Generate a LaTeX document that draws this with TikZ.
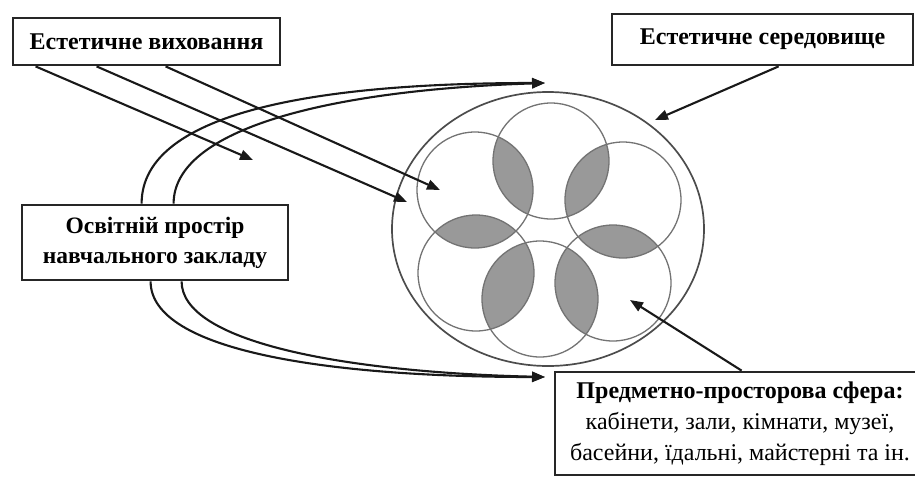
\documentclass[tikz,border=0pt]{standalone}
\usepackage{fontspec}
\setmainfont{Liberation Serif}
\usetikzlibrary{arrows.meta,calc,shapes.geometric}
\begin{document}
\begin{tikzpicture}[x=1pt,y=-1pt,
  box/.style={draw=black!85, line width=2.8pt, rectangle, inner sep=0pt, align=center, fill=white},
  btext/.style={font=\bfseries\fontsize{24}{30}\selectfont},
  conn/.style={draw=black!90, line width=2.1pt, -{Triangle[length=13pt,width=10pt]}},
  ring/.style={draw=black!55, line width=1.3pt},
  lens/.style={fill=black!40}]
\useasboundingbox (0,0) rectangle (915,477);
\clip (0,0) rectangle (915,477);

% flower
\coordinate (cT) at (551,161);
\coordinate (cUR) at (623,200);
\coordinate (cLR) at (613,283);
\coordinate (cB) at (540,299);
\coordinate (cLL) at (476,273);
\coordinate (cUL) at (475,190);
\def\rr{58}
\foreach \a/\b in {cT/cUL,cT/cUR,cUR/cLR,cLR/cB,cB/cLL,cLL/cUL}{
  \begin{scope}
    \clip (\a) circle (\rr);
    \fill[lens] (\b) circle (\rr);
  \end{scope}
}
\foreach \c in {cT,cUR,cLR,cB,cLL,cUL}{
  \draw[ring] (\c) circle (\rr);
}
\node[draw=black!70, line width=1.7pt, ellipse, minimum width=312pt, minimum height=274pt, inner sep=0pt] (env) at (548,229) {};

% boxes
\node[box, btext, minimum width=267pt, minimum height=47pt] (b1) at (146.5,41.5) {Естетичне виховання};
\node[box, btext, minimum width=301pt, minimum height=51pt] (b2) at (762.5,39.5) {Естетичне середовище};
\node[box, minimum width=266pt, minimum height=75pt, font=\bfseries\fontsize{23.5}{30}\selectfont] (b3) at (155,242.5) {Освітній простір\\навчального закладу};
\node[box, minimum width=370pt, minimum height=103pt, font=\fontsize{24}{31}\selectfont] (b4) at (740,423.5) {\textbf{Предметно-просторова сфера:}\\кабінети, зали, кімнати, музеї,\\басейни, їдальні, майстерні та ін.};

% free ends
\coordinate (e1) at (253,160);
\coordinate (e2) at (407,202);
\coordinate (e3) at (440,190);
\coordinate (eTop) at (545,83);
\coordinate (eBot) at (545,377);
\coordinate (eEnv) at (655,120);
\coordinate (eObj) at (630,300);

\draw[conn] ([xshift=24pt]b1.south west) -- (e1);
\draw[conn] ([xshift=85pt]b1.south west) -- (e2);
\draw[conn] ([xshift=154pt]b1.south west) -- (e3);

\draw[conn] ([xshift=121pt]b3.north west) .. controls ($([xshift=121pt]b3.north west)+(0,-95)$) and (330,83) .. (eTop);
\draw[conn] ([xshift=153pt]b3.north west) .. controls ($([xshift=153pt]b3.north west)+(0,-75)$) and (330,90) .. (eTop);
\draw[conn] ([xshift=130pt]b3.south west) .. controls ($([xshift=130pt]b3.south west)+(0,70)$) and (330,377) .. (eBot);
\draw[conn] ([xshift=161pt]b3.south west) .. controls ($([xshift=161pt]b3.south west)+(0,60)$) and (340,372) .. (eBot);

\draw[conn] ([xshift=168pt]b2.south west) -- (eEnv);
\draw[conn] ([xshift=188pt]b4.north west) -- (eObj);
\end{tikzpicture}
\end{document}
